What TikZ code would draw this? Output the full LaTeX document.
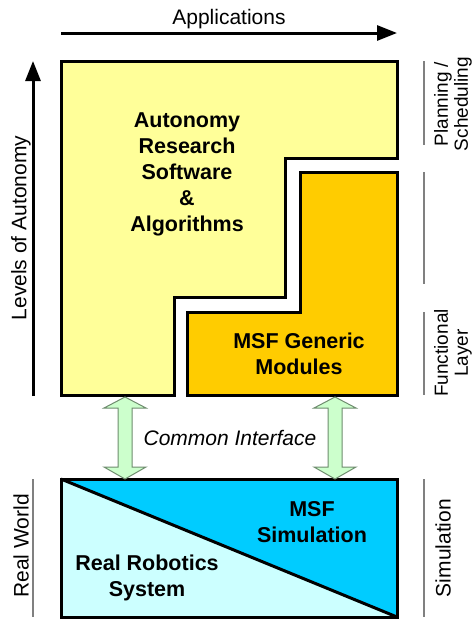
\documentclass[tikz,border=0pt]{standalone}
\usepackage{fontspec}
\setmainfont{Liberation Sans}
\usetikzlibrary{arrows.meta}
\definecolor{ylw}{HTML}{FFFF99}
\definecolor{org}{HTML}{FFCC00}
\definecolor{lcyan}{HTML}{CCFFFF}
\definecolor{dcyan}{HTML}{00CCFF}
\definecolor{lgreen}{HTML}{CCFFCC}
\definecolor{gedge}{HTML}{6E8C6E}
\definecolor{glab}{HTML}{808080}
\tikzset{
  boxline/.style={draw=black, line width=3pt, line join=miter},
  bigtxt/.style={font=\fontsize{21.5}{26}\selectfont\bfseries, align=center, inner sep=0pt},
  plaintxt/.style={font=\fontsize{21}{25}\selectfont, align=center, inner sep=0pt},
  sidetxt/.style={font=\fontsize{19}{20}\selectfont, align=center, inner sep=0pt, rotate=90},
  sidesingle/.style={font=\fontsize{21}{25}\selectfont, align=center, inner sep=0pt, rotate=90},
  glabline/.style={draw=glab, line width=1.3pt},
  axisarrow/.style={draw=black, line width=3pt, -{Triangle[length=20pt,width=15pt]}},
  dblarrow/.style={fill=lgreen, draw=gedge, line width=1pt, line join=miter}
}
\begin{document}
\begin{tikzpicture}[x=1pt,y=-1pt]
\useasboundingbox (0,0) rectangle (474,619);
% axis arrows
\coordinate (appS) at (61,33);
\coordinate (appE) at (397,33);
\draw[axisarrow] (appS) -- (appE);
\node[plaintxt] (apptxt) at (229,19) {Applications};
\coordinate (levS) at (33,396);
\coordinate (levE) at (33,61);
\draw[axisarrow] (levS) -- (levE);
\node[sidesingle] (levtxt) at (21,228) {Levels of Autonomy};
% yellow shape
\draw[boxline, fill=ylw] (61,61) -- (397,61) -- (397,158) -- (285,158) -- (285,297) -- (174,297) -- (174,395) -- (61,395) -- cycle;
\node[bigtxt] (auto) at (187,174) {Autonomy\\Research\\Software\\\&\\Algorithms};
% orange shape
\draw[boxline, fill=org] (300,172) -- (397,172) -- (397,395) -- (187,395) -- (187,312) -- (300,312) -- cycle;
\node[bigtxt] (msfg) at (299,354) {MSF Generic\\Modules};
% bottom box
\fill[lcyan] (61,479) -- (397,617) -- (61,617) -- cycle;
\fill[dcyan] (61,479) -- (397,479) -- (397,617) -- cycle;
\draw[black, line width=3pt] (61,479) -- (397,617);
\draw[boxline] (61,479) rectangle (397,617);
\node[bigtxt] (msfs) at (312,522) {MSF\\Simulation};
\node[bigtxt] (real) at (147,578) {Real Robotics\\System};
% double arrows
\foreach \cx in {125,335}{
  \draw[dblarrow] (\cx,397) -- (\cx-21,408) -- (\cx-7,408) -- (\cx-7,467) -- (\cx-21,467) -- (\cx,479)
    -- (\cx+21,467) -- (\cx+7,467) -- (\cx+7,408) -- (\cx+21,408) -- cycle;
}
\node[plaintxt, font=\fontsize{21}{25}\selectfont\itshape] (ci) at (230,438) {Common Interface};
% right side labels
\draw[glabline] (424,61) -- (424,145);
\node[sidetxt] (plan) at (453,104) {Planning /\\Scheduling};
\draw[glabline] (424,172) -- (424,284);
\draw[glabline] (424,312) -- (424,395);
\node[sidetxt] (func) at (453,353) {Functional\\Layer};
\draw[glabline] (424,479) -- (424,617);
\node[sidesingle] (sim) at (443,548) {Simulation};
% left bottom label
\draw[glabline] (33,479) -- (33,617);
\node[sidesingle] (rw) at (21,546) {Real World};
\end{tikzpicture}
\end{document}
